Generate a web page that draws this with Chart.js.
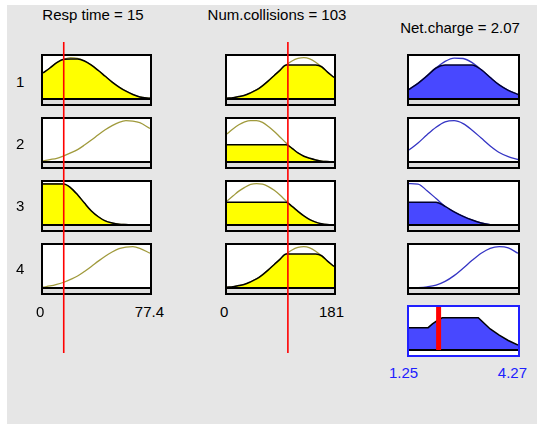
<!DOCTYPE html>
<html lang="en">
<head>
<meta charset="UTF-8" />
<title>Rule viewer</title>
<script src="https://cdn.jsdelivr.net/npm/chart.js"></script>
<style>
  body { margin: 0; background: #fff; font-family: "Liberation Sans", Arial, sans-serif; }
  #panel { position: absolute; left: 7px; top: 5px; width: 530px; height: 419px; background: #e6e6e6; }
  canvas { position: absolute; }
  .cell { background: #fff; }
  .overlay { z-index: 2; pointer-events: none; }
  .txt { position: absolute; font-size: 15px; line-height: 15px; color: #000; white-space: nowrap; }
</style>
</head>
<body>
<div id="panel"></div>
<script>
// inputs and output
const respValue = 15;
const collValue = 103;
const chargeValue = 2.07;

const respRange = [0, 77.4];
const collRange = [0, 181];
const chargeRange = [1.25, 4.27];

const respTicks = ["0", "77.4"];
const collTicks = ["0", "181"];
const chargeTicks = ["1.25", "4.27"];
const ruleLabels = ["1", "2", "3", "4"];

// membership functions
const respX = [0, 5, 10, 15, 20, 25, 30, 35, 40, 45, 50, 55, 60, 65, 70, 77.4];
const respMf1 = [0.63, 0.75, 0.88, 0.96, 1.0, 0.98, 0.92, 0.82, 0.69, 0.55, 0.41, 0.29, 0.19, 0.11, 0.05, 0.02];
const respMf2 = [0.03, 0.06, 0.09, 0.15, 0.22, 0.30, 0.41, 0.53, 0.66, 0.78, 0.88, 0.96, 1.0, 0.99, 0.95, 0.81];
const respMf3 = [1, 1, 1, 0.99, 0.90, 0.73, 0.53, 0.34, 0.20, 0.10, 0.05, 0.02, 0.01, 0, 0, 0];
const respMf4 = [0.02, 0.05, 0.09, 0.14, 0.21, 0.29, 0.40, 0.52, 0.65, 0.77, 0.87, 0.95, 0.99, 1.0, 0.96, 0.84];

const collX = [0, 10, 20, 30, 40, 50, 60, 70, 80, 90, 100, 110, 120, 130, 140, 150, 160, 170, 181];
const collMf1 = [0.02, 0.03, 0.06, 0.09, 0.15, 0.22, 0.32, 0.44, 0.57, 0.70, 0.82, 0.92, 0.98, 1.0, 0.97, 0.89, 0.78, 0.65, 0.52];
const collMf2 = [0.68, 0.80, 0.90, 0.97, 1.0, 1.0, 0.96, 0.86, 0.74, 0.60, 0.46, 0.33, 0.22, 0.14, 0.09, 0.05, 0.02, 0.01, 0];
const collMf3 = [0.58, 0.70, 0.82, 0.91, 0.98, 1.0, 0.99, 0.93, 0.84, 0.72, 0.58, 0.45, 0.33, 0.22, 0.13, 0.07, 0.03, 0.01, 0];
const collMf4 = [0.02, 0.03, 0.06, 0.09, 0.15, 0.22, 0.32, 0.44, 0.57, 0.70, 0.82, 0.92, 0.98, 1.0, 0.97, 0.89, 0.78, 0.65, 0.52];

const chargeX = [1.25, 1.5, 1.75, 2.0, 2.25, 2.5, 2.75, 3.0, 3.25, 3.5, 3.75, 4.0, 4.27];
const chargeMf1 = [0.23, 0.38, 0.56, 0.75, 0.91, 0.99, 0.98, 0.88, 0.71, 0.52, 0.34, 0.21, 0.11];
const chargeMf2 = [0.29, 0.46, 0.66, 0.84, 0.97, 1.0, 0.93, 0.77, 0.58, 0.39, 0.23, 0.13, 0.06];
const chargeMf3 = [1.0, 0.99, 0.83, 0.64, 0.45, 0.32, 0.21, 0.12, 0.05, 0.01, 0, 0, 0];
const chargeMf4 = [0, 0.01, 0.03, 0.07, 0.16, 0.30, 0.48, 0.67, 0.84, 0.96, 1.0, 0.97, 0.84];

// firing level drawn in each cell (0 = not filled)
const respLevels = [0.97, 0, 0.99, 0];
const collLevels = [0.82, 0.42, 0.55, 0.82];
const chargeLevels = [0.82, 0, 0.55, 0];

// aggregated output
const aggX = [1.25, 1.5, 1.78, 1.9, 2.03, 2.17, 2.5, 2.8, 3.17, 3.5, 3.75, 4.0, 4.27];
const aggY = [0.54, 0.54, 0.54, 0.63, 0.71, 0.78, 0.78, 0.78, 0.78, 0.51, 0.36, 0.23, 0.12];

// layout
const colLeft = [41, 225, 407];
const colWidth = [111, 111, 113];
const rowTop = [54, 117, 180, 243];
const cellH = 52;
const outTop = 305;

const inputStyle = { fill: "#ffff00", edge: "#000000", line: "#a09a3c", strip: "#dedede", border: "#000000" };
const outputStyle = { fill: "#4848ff", edge: "#000030", line: "#3434c4", strip: "#dedede", border: "#000000" };

const framePlugin = {
  id: "frame",
  beforeDatasetsDraw(chart, args, opts) {
    if (!opts.strip) return;
    const a = chart.chartArea;
    const y0 = chart.scales.y.getPixelForValue(0);
    const ctx = chart.ctx;
    ctx.save();
    ctx.fillStyle = opts.strip;
    ctx.fillRect(a.left, y0, a.right - a.left, a.bottom - y0);
    ctx.restore();
  },
  afterDraw(chart, args, opts) {
    if (!opts.border) return;
    const ctx = chart.ctx;
    ctx.save();
    ctx.strokeStyle = opts.border;
    ctx.lineWidth = 2;
    ctx.strokeRect(1, 1, chart.width - 2, chart.height - 2);
    ctx.restore();
  },
};
Chart.register(framePlugin);

function addCanvas(left, top, w, h, cls) {
  const c = document.createElement("canvas");
  c.width = w;
  c.height = h;
  c.className = cls;
  c.style.left = left + "px";
  c.style.top = top + "px";
  document.body.appendChild(c);
  return c;
}

function addText(text, left, top, align, color) {
  const d = document.createElement("div");
  d.className = "txt";
  d.textContent = text;
  d.style.top = top + "px";
  if (color) d.style.color = color;
  if (align === "center") {
    d.style.left = left - 100 + "px";
    d.style.width = "200px";
    d.style.textAlign = "center";
  } else if (align === "right") {
    d.style.left = left - 100 + "px";
    d.style.width = "100px";
    d.style.textAlign = "right";
  } else {
    d.style.left = left + "px";
  }
  document.body.appendChild(d);
}

function baseOptions(range, yMin, yMax, pad, frame) {
  return {
    responsive: false,
    animation: false,
    events: [],
    layout: { padding: pad },
    elements: { point: { radius: 0 }, line: { cubicInterpolationMode: "monotone" } },
    plugins: { legend: { display: false }, tooltip: { enabled: false }, frame: frame },
    scales: {
      x: { type: "linear", min: range[0], max: range[1], display: false },
      y: { type: "linear", min: yMin, max: yMax, display: false },
    },
  };
}

function cellChart(canvas, xs, mf, level, range, style) {
  const curve = xs.map((x, i) => ({ x: x, y: mf[i] }));
  const datasets = [];
  if (level > 0) {
    datasets.push({
      data: xs.map((x, i) => ({ x: x, y: Math.min(mf[i], level) })),
      fill: { value: 0 },
      backgroundColor: style.fill,
      borderColor: style.edge,
      borderWidth: 1.5,
      order: 0,
    });
  }
  datasets.push({ data: curve, borderColor: style.line, borderWidth: 1.3, fill: false, order: 1 });
  datasets.push({
    data: [{ x: range[0], y: 0 }, { x: range[1], y: 0 }],
    borderColor: "#000",
    borderWidth: 2,
    order: -1,
  });
  return new Chart(canvas, {
    type: "line",
    data: { datasets: datasets },
    options: baseOptions(range, -0.12, 1.04, 2, { strip: style.strip, border: style.border }),
  });
}

const columns = [
  { xs: respX, mfs: [respMf1, respMf2, respMf3, respMf4], levels: respLevels, range: respRange, style: inputStyle },
  { xs: collX, mfs: [collMf1, collMf2, collMf3, collMf4], levels: collLevels, range: collRange, style: inputStyle },
  { xs: chargeX, mfs: [chargeMf1, chargeMf2, chargeMf3, chargeMf4], levels: chargeLevels, range: chargeRange, style: outputStyle },
];

columns.forEach((col, c) => {
  rowTop.forEach((top, r) => {
    const cv = addCanvas(colLeft[c], top, colWidth[c], cellH, "cell");
    cellChart(cv, col.xs, col.mfs[r], col.levels[r], col.range, col.style);
  });
});

// aggregated output with defuzzified value
const outCanvas = addCanvas(colLeft[2], outTop, colWidth[2], cellH, "cell");
new Chart(outCanvas, {
  type: "line",
  data: {
    datasets: [
      {
        data: [{ x: chargeValue, y: 0 }, { x: chargeValue, y: 1.04 }],
        borderColor: "#ff0000",
        borderWidth: 5,
        order: -2,
      },
      {
        data: [{ x: chargeRange[0], y: 0 }, { x: chargeRange[1], y: 0 }],
        borderColor: "#000",
        borderWidth: 2,
        order: -1,
      },
      {
        data: aggX.map((x, i) => ({ x: x, y: aggY[i] })),
        fill: { value: 0 },
        backgroundColor: "#4848ff",
        borderColor: "#000",
        borderWidth: 1.5,
        tension: 0,
        cubicInterpolationMode: "default",
        order: 0,
      },
    ],
  },
  options: baseOptions(chargeRange, -0.12, 1.04, 2, { strip: "#ffffff", border: "#2020ff" }),
});

// red input lines crossing all rules
[[respRange, respValue], [collRange, collValue]].forEach((item, c) => {
  const cv = addCanvas(colLeft[c], 42, colWidth[c], 311, "overlay");
  new Chart(cv, {
    type: "line",
    data: {
      datasets: [
        {
          data: [{ x: item[1], y: 0 }, { x: item[1], y: 1 }],
          borderColor: "#ff0000",
          borderWidth: 1.6,
        },
      ],
    },
    options: baseOptions(item[0], 0, 1, { left: 2, right: 2, top: 0, bottom: 0 }, false),
  });
});

// texts
addText("Resp time = " + respValue, 93, 7, "center");
addText("Num.collisions = " + collValue, 277, 7, "center");
addText("Net.charge = " + chargeValue, 460, 20, "center");
const ruleTextTop = [74, 136, 198, 261];
ruleLabels.forEach((t, i) => addText(t, 16, ruleTextTop[i], "left"));
addText(respTicks[0], 36, 304, "left");
addText(respTicks[1], 164, 304, "right");
addText(collTicks[0], 220, 304, "left");
addText(collTicks[1], 344, 304, "right");
addText(chargeTicks[0], 389, 365, "left", "#2020ff");
addText(chargeTicks[1], 527, 365, "right", "#2020ff");
</script>
</body>
</html>
